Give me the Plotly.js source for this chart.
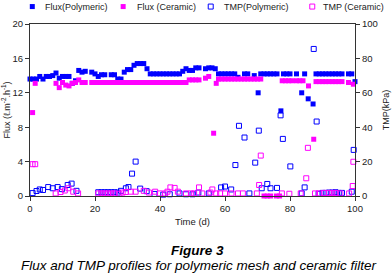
<!DOCTYPE html>
<html>
<head>
<meta charset="utf-8">
<script src="https://cdn.plot.ly/plotly-3.0.1.min.js"></script>
<style>html,body{margin:0;padding:0;background:#fff;}#chart{width:392px;height:274px;}</style>
</head>
<body>
<div id="chart"></div>
<script>
// ---- data ----
var seriesNames = ["Flux(Polymeric)", "Flux (Ceramic)", "TMP(Polymeric)", "TMP (Ceramic)"];

var fluxPolyDays = [0,1,2,3,4,5,6,7,8,9,10,11,12,13,14,15,16,17,19,20,21,22,23,25,26,27,28,29,30,31,32,33,34,35,36,37,38,39,40,41,42,43,44,45,46,47,48,49,50,51,52,54,55,56,57,58,59,60,61,62,63,64,66,67,69,70.2,71,72,73,74,75,76,77.2,78,79,80,82,83.6,84.5,85.6,87.1,88,89,90,91,92,93,94,95,96,98,99,100];
var fluxPoly     = [13.6,13.6,13.6,13.9,13.6,13.9,13.9,14.0,14.3,13.7,13.9,13.9,13.9,13.1,13.4,14.6,14.4,14.5,14.4,14.2,13.9,14.1,14.1,14.1,14.1,13.6,13.6,14.4,14.7,14.7,15.2,15.4,15.4,15.4,14.8,14.2,14.2,14.2,14.2,14.2,14.2,14.2,14.2,14.2,14.2,14.5,14.8,14.6,14.6,14.9,14.9,14.8,14.9,14.9,14.8,14.2,14.2,14.2,14.2,14.2,14.2,13.8,14.2,14.2,14.0,12.0,14.2,14.2,14.2,14.2,14.2,14.2,9.9,14.2,14.2,14.2,14.2,12.0,14.2,11.3,10.7,14.2,14.2,14.2,14.2,14.2,14.2,14.2,14.2,14.2,14.2,14.2,13.3];

var fluxCerDays = [0.8,1.6,8,9,10,11,12,13,14,15,16,17,19,20,21,22,23,24,25,26,27,28,29,30,31,32,33,34,35,36,37,38,39,40,41,42,43,44,45,46,47,48,49,50,51,52,54,55,56.5,57.3,58,59,60,61,62,63,64,65,66,67,68,69,70,71,72,73,74,75.8,76.8,77.6,78.6,79.6,80.6,82,83,84,85.7,87.3,88,89,90,91,92,93,94,95,96,98,99.5];
var fluxCer     = [9.7,13.1,13.1,12.6,13.2,12.9,12.8,13.1,13.2,13.5,13.2,13.2,13.2,13.2,13.2,13.2,13.2,13.2,13.2,13.2,13.2,13.2,13.2,13.2,13.2,13.2,13.2,13.2,13.2,13.2,13.2,13.2,13.2,13.2,13.2,13.2,13.2,13.2,13.2,13.2,13.2,13.2,13.5,13.5,13.5,13.5,13.7,13.9,7.3,13.1,13.6,13.6,13.6,13.6,13.6,13.6,13.6,13.6,13.6,13.6,13.6,13.6,13.6,13.6,0,0,0,0,0,13.4,13.4,13.4,13.4,13.4,13.4,13.4,12.8,6.6,13.3,13.3,13.3,13.3,13.3,13.3,13.3,13.3,13.3,13.2,13.0];

var tmpPolyDays = [0.8,2,3,4,5.6,7,8.5,9.8,11.6,12.8,14.3,21,22,23,24,25,26,27,28,29.5,30.3,31.4,32.5,33.9,35.9,38.3,41,43,46,48,50,51.8,55,58.8,60,61.9,63.2,64.3,66,67.5,69.3,70.4,71.3,73,74,76,77.1,77.8,80.1,83.6,84.5,87.3,88.2,88.8,90,91,92,93,94,95,96,99,99.6];
var tmpPoly     = [1.7,2.9,3.8,3.5,5.2,4.5,5.2,4.0,6.4,7.2,3.0,2.2,2.2,2.2,2.2,2.2,2.2,2.0,3.0,4.5,5.2,13,20,4.3,2.8,1.2,0.8,1.0,1.5,1.0,1.0,2.0,1.5,5.0,5.5,3.8,18,40.8,34,1.5,19.4,38,4.5,7.0,4.5,4.7,46.9,33.2,17.2,1.5,5.0,85.5,43.3,1.3,1.8,1.8,2.0,2.0,2.2,1.8,1.8,2.5,26.8];

var tmpCerDays = [0.8,1.6,7.9,9.4,10.7,11.8,13.3,14.8,21,22,23,24,25,26,27.5,28.5,29.5,31,32.5,35,36.6,38.5,40,41.6,42.3,43.2,44.5,45.5,48,49.5,50.5,52,53,55.5,56.1,57.3,58.5,60,62,64,65.5,69.8,70.5,71,77.5,79.8,83.3,85,85.5,87.7,89,90.5,92,93,94,95.5,98.2,99.3,99.5];
var tmpCer     = [18.5,18.5,1.5,2.3,3.2,4.5,2.5,1.5,1.5,1.5,1.5,1.5,1.5,1.5,1.3,2.0,2.3,2.5,2.5,3.0,2.0,2.5,1.5,1.5,2.5,5.0,4.7,2.5,1.5,1.5,1.5,5.0,1.5,2.0,3.8,1.5,1.5,1.5,1.5,1.5,1.5,1.5,6.4,23.5,1.5,1.3,1.5,10.3,28,1.5,1.5,1.8,1.8,1.8,1.8,1.5,1.5,5.8,19.9];

var xTicks = [0,20,40,60,80,100];
var yTicks = [0,4,8,12,16,20];
var y2Ticks = [0,20,40,60,80,100];
// ----------------------------------------

var BLUE = "#0000ff", MAG = "#ff00ff";
var FONT = "Liberation Sans, Arial, sans-serif";
var AX = "#333";

var traces = [
  {x: fluxPolyDays, y: fluxPoly, name: seriesNames[0], type: "scatter", mode: "markers", yaxis: "y",
   marker: {symbol: "square", size: 5, color: BLUE, line: {width: 0}}, cliponaxis: false},
  {x: fluxCerDays, y: fluxCer, name: seriesNames[1], type: "scatter", mode: "markers", yaxis: "y",
   marker: {symbol: "square", size: 5, color: MAG, line: {width: 0}}, cliponaxis: false},
  {x: tmpPolyDays, y: tmpPoly, name: seriesNames[2], type: "scatter", mode: "markers", yaxis: "y2",
   marker: {symbol: "square-open", size: 5, color: BLUE, line: {width: 1, color: BLUE}}, cliponaxis: false},
  {x: tmpCerDays, y: tmpCer, name: seriesNames[3], type: "scatter", mode: "markers", yaxis: "y2",
   marker: {symbol: "square-open", size: 5, color: MAG, line: {width: 1, color: MAG}}, cliponaxis: false}
];

// legend drawn at top row
var PL = 30, PW = 325.5, PT = 24.4, PH = 171.6;
function px2x(px){ return (px - PL) / PW; }
function py2y(py){ return (PT + PH - py) / PH; }
var legMarkX = [32.3, 123.3, 211, 312.7];
var legTextX = [43.3, 135, 222.7, 321.7];
var legY = 7;
var shapes = [], annotations = [];
for (var i = 0; i < 4; i++) {
  var col = (i % 2 === 0) ? BLUE : MAG;
  var filled = i < 2;
  shapes.push({type: "rect", xref: "paper", yref: "paper",
    x0: px2x(legMarkX[i] - 2.5), x1: px2x(legMarkX[i] + 2.5),
    y0: py2y(legY + 2.5), y1: py2y(legY - 2.5),
    fillcolor: filled ? col : "rgba(0,0,0,0)", line: {color: col, width: filled ? 0 : 1}});
  annotations.push({xref: "paper", yref: "paper", x: px2x(legTextX[i]), y: py2y(legY),
    xanchor: "left", yanchor: "middle", showarrow: false, text: seriesNames[i],
    font: {family: FONT, size: 9, color: "#222"}});
}
annotations.push({xref: "paper", yref: "paper", x: px2x(198), y: py2y(250), xanchor: "center", yanchor: "middle",
  showarrow: false, text: "<b><i>Figure 3</i></b>", font: {family: FONT, size: 13.5, color: "#000"}});
annotations.push({xref: "paper", yref: "paper", x: px2x(199.7), y: py2y(265.5), xanchor: "center", yanchor: "middle",
  showarrow: false, text: "<i>Flux and TMP profiles for polymeric mesh and ceramic filter</i>", font: {family: FONT, size: 13.5, color: "#000"}});

var layout = {
  width: 392, height: 274,
  margin: {l: 30, r: 36.5, t: 24.4, b: 78, pad: 0},
  paper_bgcolor: "#fff", plot_bgcolor: "#fff",
  showlegend: false,
  font: {family: FONT, size: 9, color: "#222"},
  xaxis: {range: [0, 100], tickvals: xTicks, ticktext: xTicks.map(String), ticks: "outside", ticklen: 4, tickcolor: AX,
    showline: true, linecolor: AX, linewidth: 1, mirror: true, showgrid: false, zeroline: false,
    tickfont: {family: FONT, size: 9.5, color: "#222"},
    title: {text: "Time (d)", font: {family: FONT, size: 9.5, color: "#222"}, standoff: 4}, automargin: false},
  yaxis: {range: [0, 20], tickvals: yTicks, ticktext: yTicks.map(String), ticks: "outside", ticklen: 4, tickcolor: AX,
    showline: true, linecolor: AX, linewidth: 1, showgrid: false, zeroline: false,
    tickfont: {family: FONT, size: 9.5, color: "#222"},
    title: {text: "Flux (ℓ.m<sup>-2</sup>.h<sup>-1</sup>)", font: {family: FONT, size: 9, color: "#222"}, standoff: 3}, automargin: false},
  yaxis2: {range: [0, 100], overlaying: "y", side: "right", tickvals: y2Ticks, ticktext: y2Ticks.map(String), ticks: "outside", ticklen: 4, tickcolor: AX,
    showline: true, linecolor: AX, linewidth: 1, showgrid: false, zeroline: false,
    tickfont: {family: FONT, size: 9.5, color: "#222"},
    title: {text: "TMP(kPa)", font: {family: FONT, size: 9, color: "#222"}, standoff: 5}, automargin: false},
  shapes: shapes,
  annotations: annotations
};

Plotly.newPlot("chart", traces, layout, {staticPlot: true, displayModeBar: false});
</script>
</body>
</html>
